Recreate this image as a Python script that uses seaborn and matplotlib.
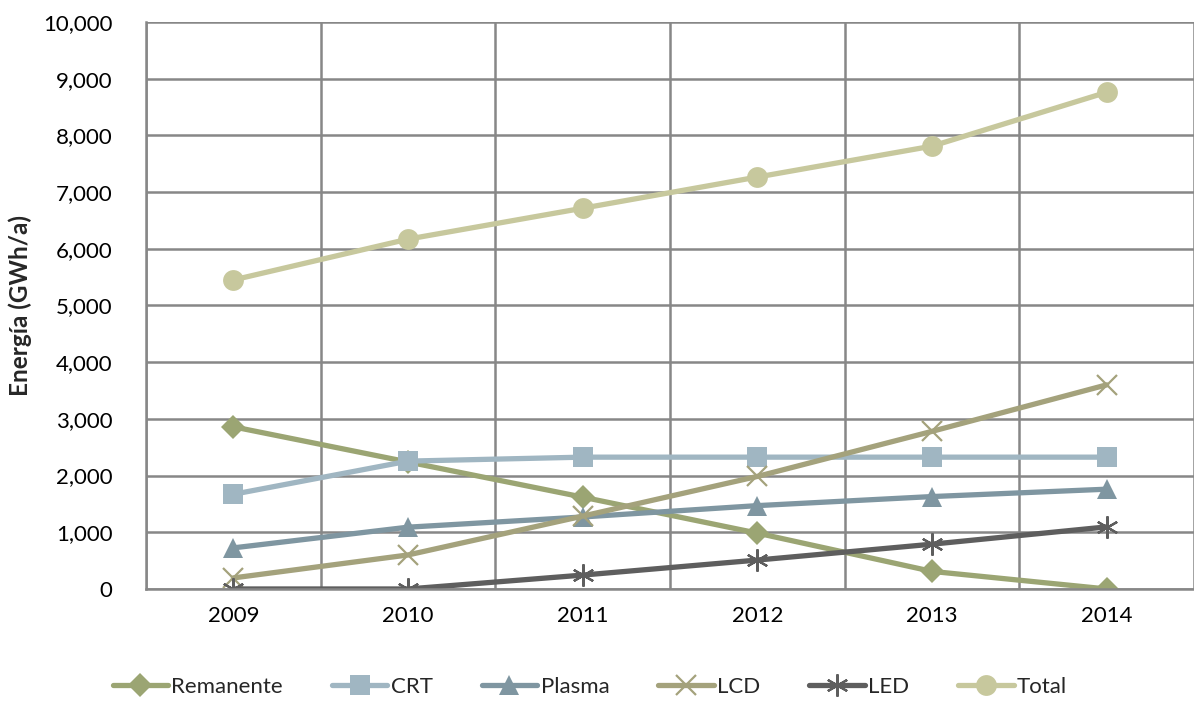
import pandas as pd
import numpy as np
import matplotlib
matplotlib.use("Agg")
import matplotlib.pyplot as plt
from matplotlib.ticker import FuncFormatter
import seaborn as sns

YEARS = ["2009", "2010", "2011", "2012", "2013", "2014"]
remanente = [2860, 2240, 1620, 985, 310, 0]
crt       = [1670, 2255, 2325, 2325, 2325, 2325]
plasma    = [725, 1090, 1270, 1470, 1630, 1760]
lcd       = [195, 600, 1285, 1985, 2780, 3600]
led       = [0, 0, 245, 510, 790, 1095]
total     = [5450, 6170, 6715, 7265, 7810, 8760]

SERIES = {"Remanente": remanente, "CRT": crt, "Plasma": plasma,
          "LCD": lcd, "LED": led, "Total": total}
COLORS = {"Remanente": "#9BA573", "CRT": "#A0B6C2", "Plasma": "#7F96A1",
          "LCD": "#A4A27C", "LED": "#5E5E5E", "Total": "#C7C89D"}
MARKERS = {"Remanente": "D", "CRT": "s", "Plasma": "^",
           "LCD": "x", "LED": (6, 2, 0), "Total": "o"}
MSIZE = {"Remanente": 12, "CRT": 14, "Plasma": 15, "LCD": 15, "LED": 16, "Total": 15}

rows = []
for name, vals in SERIES.items():
    for i, v in enumerate(vals):
        rows.append({"idx": i, "year": YEARS[i], "serie": name, "valor": v})
df = pd.DataFrame(rows)

sns.set_style("white")
plt.rcParams["font.family"] = ["Lato", "DejaVu Sans"]

fig = plt.figure(figsize=(11.94, 7.02), dpi=100)
ax = fig.add_axes([0.1223, 0.161, 0.8777, 0.8077])

for name in SERIES:
    sub = df[df["serie"] == name]
    m = MARKERS[name]
    line_kw = dict(markersize=MSIZE[name], markeredgecolor=COLORS[name])
    if m == "x" or isinstance(m, tuple):
        line_kw["markeredgewidth"] = 1.6
    else:
        line_kw["markeredgewidth"] = 0
    sns.lineplot(data=sub, x="idx", y="valor", ax=ax, color=COLORS[name],
                 marker=m, linewidth=3.8, label=name, **line_kw)

ax.set_xlim(-0.5, 5.5)
ax.set_ylim(0, 10000)
ax.set_xticks(range(len(YEARS)))
ax.set_xticklabels(YEARS)
ax.set_xticks(np.arange(-0.5, 6.0, 1.0), minor=True)
ax.set_yticks(np.arange(0, 10001, 1000))
ax.yaxis.set_major_formatter(FuncFormatter(lambda v, p: f"{int(v):,}"))

ax.grid(False)
ax.grid(which="major", axis="y", color="#878787", linewidth=1.8)
ax.grid(which="minor", axis="x", color="#878787", linewidth=1.8)
ax.set_axisbelow(True)
for s in ["top", "right"]:
    ax.spines[s].set_visible(False)
for s in ["left", "bottom"]:
    ax.spines[s].set_color("#878787")
    ax.spines[s].set_linewidth(1.8)

ax.tick_params(axis="both", which="both", length=0, labelsize=16, colors="black")
ax.tick_params(axis="x", pad=12)
ax.tick_params(axis="y", pad=24)
ax.set_xlabel("")
ax.set_ylabel("Energía (GWh/a)", fontsize=17.5, fontweight="bold", labelpad=8)

handles, labels = ax.get_legend_handles_labels()
ax.legend_.remove()
fig.legend(handles, labels, loc="center", bbox_to_anchor=(0.494, 0.022), ncol=6,
           frameon=False, fontsize=16, handlelength=2.5, columnspacing=2.2,
           handletextpad=0.15)

fig.savefig("out.png", dpi=100)
